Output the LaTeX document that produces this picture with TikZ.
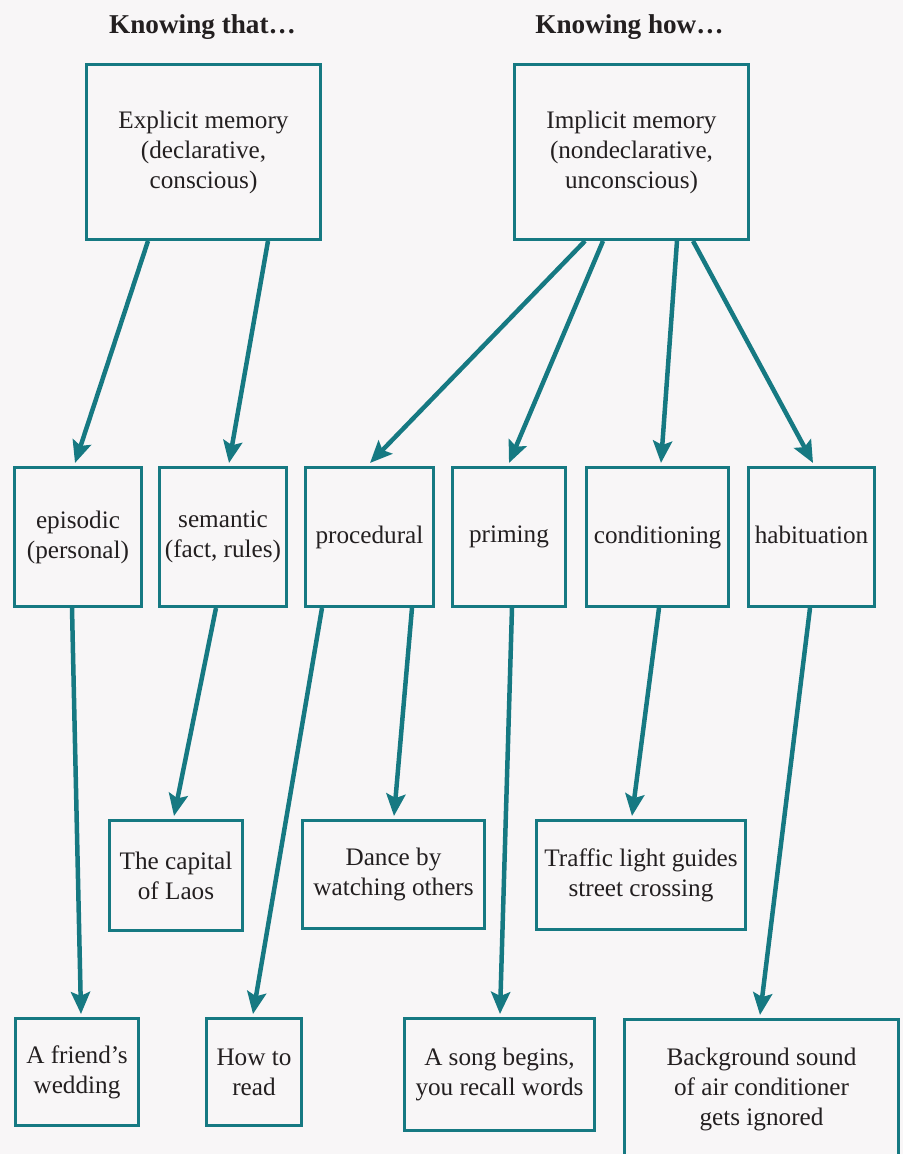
\documentclass[tikz,border=0pt]{standalone}
\usepackage{fontspec}
\setmainfont{Liberation Serif}
\usetikzlibrary{arrows.meta}
\definecolor{teal}{RGB}{22,121,130}
\definecolor{ink}{RGB}{35,31,32}
\definecolor{bgc}{RGB}{248,246,247}
\tikzset{
  box/.style={draw=teal, line width=3pt, inner sep=0pt, align=center, text=ink,
    font=\fontsize{25.2}{30}\selectfont, fill=bgc},
  ttl/.style={anchor=base, text=ink, font=\fontsize{27.2}{32}\selectfont\bfseries, inner sep=0pt},
  arr/.style={draw=teal, line width=4.5pt, -{Stealth[length=22pt,width=19pt,inset=4pt]}},
}
\begin{document}
\begin{tikzpicture}[x=1pt,y=-1pt]
\fill[bgc] (0,0) rectangle (903,1154);
\useasboundingbox (0,0) rectangle (903,1154);

\node[ttl] (t1) at (202.5,33) {Knowing that…};
\node[ttl] (t2) at (629.5,33) {Knowing how…};

\node[box, minimum width=234pt, minimum height=175pt] (exp) at (203.5,152) {Explicit memory\\(declarative,\\conscious)};
\node[box, minimum width=234pt, minimum height=175pt] (imp) at (631.5,152) {Implicit memory\\(nondeclarative,\\unconscious)};

\node[box, minimum width=127pt, minimum height=139pt] (epi) at (78,537) {episodic\\(personal)};
\node[box, minimum width=127pt, minimum height=139pt] (sem) at (223,537) {semantic\\(fact, rules)};
\node[box, minimum width=128pt, minimum height=139pt] (pro) at (369.5,537) {procedural};
\node[box, minimum width=113pt, minimum height=139pt] (pri) at (509,537) {priming};
\node[box, minimum width=142pt, minimum height=139pt] (con) at (657.5,537) {conditioning};
\node[box, minimum width=126pt, minimum height=139pt] (hab) at (811.5,537) {habituation\vphantom{p}};

\node[box, minimum width=133pt, minimum height=110pt] (lao) at (176,875.5) {The capital\\of Laos};
\node[box, minimum width=182pt, minimum height=108pt] (dan) at (393.5,874.5) {Dance by\\watching others};
\node[box, minimum width=209pt, minimum height=109pt] (tra) at (641,875) {Traffic light guides\\street crossing};

\node[box, minimum width=123pt, minimum height=107pt] (fri) at (77,1072) {A friend’s\\wedding};
\node[box, minimum width=95pt, minimum height=107pt] (how) at (254,1072) {How to\\read};
\node[box, minimum width=190pt, minimum height=112pt] (son) at (499.5,1074.5) {A song begins,\\you recall words};
\node[box, minimum width=274pt, minimum height=139pt] (bac) at (761.5,1089) {Background sound\\of air conditioner\\gets ignored};

\draw[arr] ([xshift=63pt]exp.south west) -- ([xshift=62pt,yshift=3pt]epi.north west);
\draw[arr] ([xshift=183pt]exp.south west) -- ([xshift=71pt,yshift=3pt]sem.north west);
\draw[arr] ([xshift=72pt]imp.south west) -- ([xshift=66pt,yshift=3pt]pro.north west);
\draw[arr] ([xshift=90pt]imp.south west) -- ([xshift=58pt,yshift=3pt]pri.north west);
\draw[arr] ([xshift=164pt]imp.south west) -- ([xshift=76pt,yshift=3pt]con.north west);
\draw[arr] ([xshift=180pt]imp.south west) -- ([xshift=66pt,yshift=3pt]hab.north west);

\draw[arr] ([xshift=59pt]epi.south west) -- ([xshift=67pt,yshift=3pt]fri.north west);
\draw[arr] ([xshift=58pt]sem.south west) -- ([xshift=66pt,yshift=3pt]lao.north west);
\draw[arr] ([xshift=18pt]pro.south west) -- ([xshift=48pt,yshift=3pt]how.north west);
\draw[arr] ([xshift=108pt]pro.south west) -- ([xshift=93pt,yshift=3pt]dan.north west);
\draw[arr] ([xshift=61pt]pri.south west) -- ([xshift=97pt,yshift=3pt]son.north west);
\draw[arr] ([xshift=74pt]con.south west) -- ([xshift=97pt,yshift=3pt]tra.north west);
\draw[arr] ([xshift=63pt]hab.south west) -- ([xshift=137pt,yshift=3pt]bac.north west);
\end{tikzpicture}
\end{document}
